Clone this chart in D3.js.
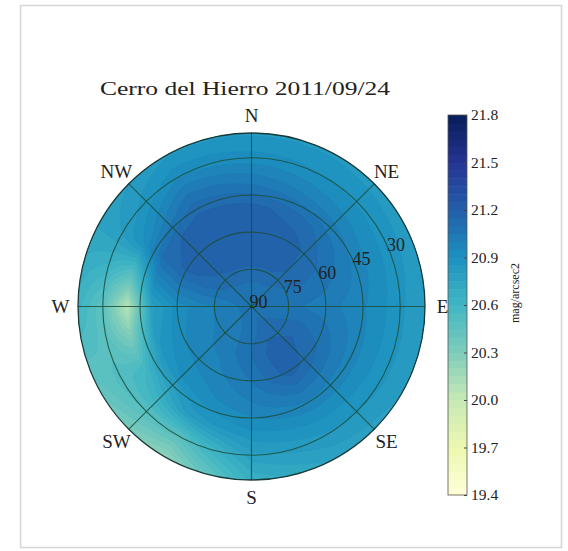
<!DOCTYPE html>
<html>
<head>
<meta charset="utf-8">
<script src="https://cdn.jsdelivr.net/npm/d3@7"></script>
<style>
  body { margin: 0; background: #fff; }
  svg { display: block; }
  text { font-family: "Liberation Serif", "DejaVu Serif", serif; fill: #222; }
</style>
</head>
<body>
<svg id="chart" width="568" height="551"></svg>
<script>
// ---- data -------------------------------------------------------------
const title = "Cerro del Hierro 2011/09/24";
// measurement altitudes (deg) and azimuths (deg, N=0, clockwise)
const altitudes = [90, 80, 70, 60, 50, 40, 30, 20];
const azimuths = [0, 30, 60, 90, 120, 150, 180, 210, 240, 270, 300, 330];
// sky brightness (mag/arcsec2), one row per altitude, one column per azimuth
const skyBrightness = [
  [21.08, 21.08, 21.08, 21.08, 21.08, 21.08, 21.08, 21.08, 21.08, 21.08, 21.08, 21.08],
  [21.10, 21.10, 21.08, 21.06, 21.10, 21.12, 21.08, 21.04, 21.02, 21.02, 21.08, 21.10],
  [21.18, 21.18, 21.12, 21.05, 21.14, 21.19, 21.10, 21.02, 20.99, 20.98, 21.14, 21.18],
  [21.19, 21.18, 21.10, 21.02, 21.10, 21.18, 21.05, 20.98, 20.95, 20.92, 21.16, 21.20],
  [21.17, 21.12, 21.04, 20.98, 21.02, 21.05, 20.99, 20.93, 20.87, 20.78, 21.12, 21.18],
  [21.04, 20.99, 20.95, 20.93, 20.93, 20.93, 20.90, 20.82, 20.58, 20.05, 20.90, 21.08],
  [20.92, 20.90, 20.88, 20.86, 20.86, 20.84, 20.78, 20.47, 20.52, 20.45, 20.80, 20.94],
  [20.84, 20.84, 20.82, 20.80, 20.80, 20.76, 20.66, 20.22, 20.42, 20.62, 20.76, 20.84]
];
const altitudeTicks = [90, 75, 60, 45, 30];
const compassLabels = ["N", "NE", "E", "SE", "S", "SW", "W", "NW"];
const compassAzimuths = [0, 45, 90, 135, 180, 225, 270, 315];
const colorTicks = [19.4, 19.7, 20.0, 20.3, 20.6, 20.9, 21.2, 21.5, 21.8];
const colorUnit = "mag/arcsec2";

// ---- layout -------------------------------------------------------------
const svg = d3.select("#chart");
const cx = 251.5, cy = 306.5, R = 173.5;
const rScale = d3.scaleLinear().domain([90, 20]).range([0, R]);
const magMin = colorTicks[0], magMax = colorTicks[colorTicks.length - 1];
// YlGnBu with straight segments between the nine anchor colours
const ylgnbu = d3.piecewise(d3.interpolateRgb, d3.schemeYlGnBu[9]);
const color = d3.scaleSequential(ylgnbu).domain([magMin, magMax]);
const levelStep = 0.05;
const levels = d3.range(0, Math.round((magMax - magMin) / levelStep)).map(i => +(magMin + i * levelStep).toFixed(3));

// frame around the figure
svg.append("rect").attr("x", 20.5).attr("y", 5.5).attr("width", 541).attr("height", 542)
  .attr("fill", "none").attr("stroke", "#d6d6d6").attr("stroke-width", 1.5);

// ---- field: bilinear lookup on the measurement grid ---------------------
const altIndex = d3.scaleLinear().domain(altitudes).range(d3.range(altitudes.length)).clamp(true);
const azStep = 360 / azimuths.length;
function brightnessAt(alt, az) {
  const fi = altIndex(alt);
  const i0 = Math.floor(fi), i1 = Math.min(i0 + 1, altitudes.length - 1), ti = fi - i0;
  const fa = (((az % 360) + 360) % 360) / azStep;
  const j0 = Math.floor(fa) % azimuths.length, j1 = (j0 + 1) % azimuths.length, tj = fa - Math.floor(fa);
  const a = skyBrightness[i0][j0] * (1 - tj) + skyBrightness[i0][j1] * tj;
  const b = skyBrightness[i1][j0] * (1 - tj) + skyBrightness[i1][j1] * tj;
  return a * (1 - ti) + b * ti;
}

const n = 240, pad = 3;
const span = 2 * (R + pad), cell = span / n;
const grid = new Array(n * n);
for (let j = 0; j < n; j++) {
  for (let i = 0; i < n; i++) {
    const dx = -R - pad + (i + 0.5) * cell;
    const dy = -R - pad + (j + 0.5) * cell;
    const r = Math.min(Math.hypot(dx, dy), R);
    const alt = rScale.invert(r);
    const az = Math.atan2(dx, -dy) * 180 / Math.PI;
    grid[j * n + i] = brightnessAt(alt, az);
  }
}

const defs = svg.append("defs");
defs.append("clipPath").attr("id", "disc")
  .append("circle").attr("cx", cx).attr("cy", cy).attr("r", R);

const contourPath = d3.geoPath(d3.geoIdentity().scale(cell).translate([cx - R - pad, cy - R - pad]));
const bands = d3.contours().size([n, n]).thresholds(levels)(grid);
svg.append("g").attr("clip-path", "url(#disc)")
  .selectAll("path").data(bands).join("path")
  .attr("d", contourPath)
  .attr("fill", d => color(d.value + levelStep / 2))
  .attr("stroke", d => color(d.value + levelStep / 2))
  .attr("stroke-width", 0.4);

// ---- polar grid ---------------------------------------------------------
const gridG = svg.append("g").attr("fill", "none").attr("stroke", "#1b4f3b")
  .attr("stroke-opacity", 0.85).attr("stroke-width", 1.1);
gridG.selectAll("circle").data(altitudeTicks.filter(a => a < 90)).join("circle")
  .attr("cx", cx).attr("cy", cy).attr("r", d => rScale(d));
gridG.selectAll("line").data(compassAzimuths).join("line")
  .attr("x1", cx).attr("y1", cy)
  .attr("x2", d => cx + R * Math.sin(d * Math.PI / 180))
  .attr("y2", d => cy - R * Math.cos(d * Math.PI / 180));
svg.append("circle").attr("cx", cx).attr("cy", cy).attr("r", R)
  .attr("fill", "none").attr("stroke", "#1a3a3a").attr("stroke-width", 1.3);

// radial (altitude) labels along the 67.5 deg azimuth
const labelAz = 67.5 * Math.PI / 180;
svg.append("g").selectAll("text").data(altitudeTicks).join("text")
  .attr("x", d => cx + rScale(d) * Math.sin(labelAz) - 2)
  .attr("y", d => cy - rScale(d) * Math.cos(labelAz) + 1)
  .attr("font-size", 18).attr("text-anchor", "start")
  .text(d => d);

// compass labels
const compassR = 191;
svg.append("g").selectAll("text").data(compassLabels).join("text")
  .attr("x", (d, i) => cx + compassR * Math.sin(compassAzimuths[i] * Math.PI / 180))
  .attr("y", (d, i) => cy - compassR * Math.cos(compassAzimuths[i] * Math.PI / 180))
  .attr("font-size", 19).attr("text-anchor", "middle").attr("dominant-baseline", "central")
  .text(d => d);

// title
svg.append("text").attr("x", 245).attr("y", 95).attr("text-anchor", "middle")
  .attr("font-size", 19.5).attr("textLength", 290).attr("lengthAdjust", "spacingAndGlyphs")
  .text(title);

// ---- colorbar -----------------------------------------------------------
const cbX = 448, cbW = 19, cbTop = 115, cbBottom = 495;
const cbScale = d3.scaleLinear().domain([magMin, magMax]).range([cbBottom, cbTop]);
const cb = svg.append("g");
cb.selectAll("rect").data(levels).join("rect")
  .attr("x", cbX).attr("width", cbW)
  .attr("y", d => cbScale(d + levelStep))
  .attr("height", d => cbScale(d) - cbScale(d + levelStep) + 0.5)
  .attr("fill", d => color(d + levelStep / 2));
cb.append("rect").attr("x", cbX).attr("y", cbTop).attr("width", cbW).attr("height", cbBottom - cbTop)
  .attr("fill", "none").attr("stroke", "#555").attr("stroke-width", 0.8);

const cbAxis = svg.append("g").attr("transform", `translate(${cbX + cbW},0)`)
  .call(d3.axisRight(cbScale).tickValues(colorTicks).tickFormat(d3.format(".1f")).tickSize(3).tickPadding(3));
cbAxis.select(".domain").remove();
cbAxis.selectAll(".tick line").attr("stroke", "#444").attr("x2", -3);
cbAxis.selectAll(".tick text").attr("font-family", "Liberation Serif, DejaVu Serif, serif")
  .attr("font-size", 15.5).attr("fill", "#333").attr("x", 4);

svg.append("text").attr("transform", "translate(515,293) rotate(-90)")
  .attr("text-anchor", "middle").attr("dominant-baseline", "central")
  .attr("font-size", 12).text(colorUnit);
</script>
</body>
</html>
